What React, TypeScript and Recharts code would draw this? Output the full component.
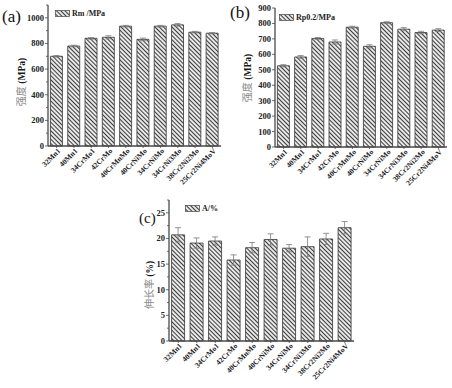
import { BarChart, Bar, XAxis, YAxis, ErrorBar, Legend } from "recharts";

const categories = ["32Mn1", "40Mn1", "34CrMo1", "42CrMo", "40CrMnMo", "40CrNiMo", "34CrNiMo", "34CrNi3Mo", "38Cr2Ni2Mo", "25Cr2Ni4MoV"];

const rmValues = [700, 780, 840, 848, 935, 832, 935, 945, 888, 880];
const rmErrors = [6, 6, 6, 12, 6, 10, 6, 10, 6, 5];
const rpValues = [526, 583, 703, 680, 776, 652, 805, 763, 741, 757];
const rpErrors = [7, 9, 6, 13, 6, 10, 6, 10, 8, 9];
const aValues = [20.7, 19.1, 19.5, 15.8, 18.2, 19.8, 18.1, 18.4, 19.9, 22.1];
const aErrors = [1.4, 1.0, 0.8, 1.0, 1.0, 1.1, 0.7, 1.9, 1.1, 1.2];

const rmTicks = [0, 100, 200, 300, 400, 500, 600, 700, 800, 900, 1000, 1100];
const rmMajor = [0, 200, 400, 600, 800, 1000];
const rpTicks = [0, 100, 200, 300, 400, 500, 600, 700, 800, 900];
const rpMajor = [0, 100, 200, 300, 400, 500, 600, 700, 800, 900];
const aTicks = [0, 2.5, 5, 7.5, 10, 12.5, 15, 17.5, 20, 22.5, 25, 27.5];
const aMajor = [0, 5, 10, 15, 20, 25];

const SERIF = "'Liberation Serif', 'Times New Roman', serif";
const CJK = "'Noto Sans CJK SC', sans-serif";
const FRAME = "#4a4a4a";

const build = (vals: number[], errs: number[]) =>
  categories.map((name, i) => ({ name, value: vals[i], err: errs[i] }));

type PanelProps = {
  id: string;
  tag: string;
  legendName: string;
  yName: string;
  yUnit: string;
  vals: number[];
  errs: number[];
  ticks: number[];
  major: number[];
  max: number;
  left: number;
  top: number;
  width: number;
  height: number;
  marginTop: number;
  marginRight: number;
  yWidth: number;
  xHeight: number;
  labelPos: { x: number; y: number };
  legendPos: { left: number; top: number };
  tagPos: { x: number; y: number; size: number };
};

function Swatch({ id }: { id: string }) {
  return (
    <svg width={15} height={7} style={{ display: "block" }}>
      <rect x={0.5} y={0.5} width={14} height={6} fill={`url(#${id})`} stroke="#444" strokeWidth={0.7} />
    </svg>
  );
}

function Panel(p: PanelProps) {
  const data = build(p.vals, p.errs);
  const plotLeft = p.yWidth;

  const yTick = (props: any) => {
    const { y, payload } = props;
    const isMajor = p.major.includes(payload.value);
    return (
      <g>
        <line x1={plotLeft - (isMajor ? 3 : 2)} x2={plotLeft} y1={y} y2={y} stroke={FRAME} strokeWidth={0.8} />
        {isMajor && (
          <text x={plotLeft - 4} y={y} dy={3} textAnchor="end" fontFamily={SERIF} fontWeight="bold" fontSize={8.5} fill="#222">
            {payload.value}
          </text>
        )}
      </g>
    );
  };

  const xTick = (props: any) => {
    const { x, y, payload } = props;
    return (
      <g transform={`translate(${x},${y})`}>
        <text x={2} y={4} textAnchor="end" transform="rotate(-45)" fontFamily={SERIF} fontWeight="bold" fontSize={7.5} fill="#222">
          {payload.value}
        </text>
      </g>
    );
  };

  // y label: grey CJK name followed by bold serif unit
  const yLabel = () => (
    <text
      x={p.labelPos.x}
      y={p.labelPos.y}
      textAnchor="middle"
      fontFamily={SERIF}
      fontWeight="bold"
      fontSize={9.5}
      fill="#1a1a1a"
      transform={`rotate(-90, ${p.labelPos.x}, ${p.labelPos.y})`}
    >
      <tspan fontFamily={CJK} fontWeight="normal" fontSize={10} fill="#8a8a8a">{p.yName}</tspan>
      <tspan> {p.yUnit}</tspan>
    </text>
  );

  const legendContent = () => (
    <div style={{ display: "flex", alignItems: "center", gap: 2 }}>
      <Swatch id={p.id} />
      <span style={{ fontFamily: SERIF, fontWeight: "bold", fontSize: 8, color: "#222", whiteSpace: "nowrap" }}>
        {p.legendName}
      </span>
    </div>
  );

  return (
    <div style={{ position: "absolute", left: p.left, top: p.top }}>
      <BarChart
        width={p.width}
        height={p.height}
        data={data}
        margin={{ top: p.marginTop, right: p.marginRight, left: 0, bottom: 0 }}
        barCategoryGap="14%"
      >
        <defs>
          <pattern id={p.id} width={3} height={3} patternUnits="userSpaceOnUse" patternTransform="rotate(-45)">
            <rect width={3} height={3} fill="#e8e8e8" />
            <line x1={0} y1={0} x2={0} y2={3} stroke="#333" strokeWidth={1.9} />
          </pattern>
        </defs>
        <XAxis
          dataKey="name"
          height={p.xHeight}
          interval={0}
          tick={xTick}
          tickSize={2}
          tickLine={{ stroke: FRAME, strokeWidth: 0.8 }}
          axisLine={{ stroke: FRAME, strokeWidth: 1.3 }}
        />
        <XAxis xAxisId="top" orientation="top" dataKey="name" height={0} tick={false} tickLine={false} axisLine={{ stroke: FRAME, strokeWidth: 1.3 }} />
        <YAxis
          width={p.yWidth}
          domain={[0, p.max]}
          ticks={p.ticks}
          interval={0}
          tick={yTick}
          tickLine={false}
          axisLine={{ stroke: FRAME, strokeWidth: 1.3 }}
          label={{ content: yLabel }}
        />
        <YAxis yAxisId="right" orientation="right" width={0} domain={[0, p.max]} tick={false} tickLine={false} axisLine={{ stroke: FRAME, strokeWidth: 1.3 }} />
        <Legend
          layout="horizontal"
          verticalAlign="middle"
          align="center"
          content={legendContent}
          wrapperStyle={{ position: "absolute", left: p.legendPos.left, top: p.legendPos.top, width: "auto", height: "auto" }}
        />
        <Bar dataKey="value" name={p.legendName} fill={`url(#${p.id})`} stroke="#333" strokeWidth={0.8} isAnimationActive={false}>
          <ErrorBar dataKey="err" width={3} stroke="#7a7a7a" strokeWidth={0.8} />
        </Bar>
      </BarChart>
      <div
        style={{
          position: "absolute",
          left: p.tagPos.x,
          top: p.tagPos.y,
          fontFamily: SERIF,
          fontSize: p.tagPos.size,
          color: "#111",
          lineHeight: 1,
        }}
      >
        {p.tag}
      </div>
    </div>
  );
}

export default function App() {
  return (
    <div style={{ position: "absolute", left: 0, top: 0, width: 452, height: 388, background: "#fff", overflow: "hidden" }}>
      <Panel
        id="hatchA"
        tag="(a)"
        legendName="Rm /MPa"
        yName="强度"
        yUnit="(MPa)"
        vals={rmValues}
        errs={rmErrors}
        ticks={rmTicks}
        major={rmMajor}
        max={1100}
        left={0}
        top={0}
        width={226}
        height={190}
        marginTop={5}
        marginRight={5}
        yWidth={48}
        xHeight={44}
        labelPos={{ x: 25, y: 82 }}
        legendPos={{ left: 55, top: 9 }}
        tagPos={{ x: 2, y: 8, size: 17 }}
      />
      <Panel
        id="hatchB"
        tag="(b)"
        legendName="Rp0.2/MPa"
        yName="强度"
        yUnit="(MPa)"
        vals={rpValues}
        errs={rpErrors}
        ticks={rpTicks}
        major={rpMajor}
        max={900}
        left={226}
        top={0}
        width={226}
        height={190}
        marginTop={8}
        marginRight={5}
        yWidth={49}
        xHeight={43}
        labelPos={{ x: 25, y: 78 }}
        legendPos={{ left: 53, top: 13 }}
        tagPos={{ x: 4, y: 4, size: 17 }}
      />
      <Panel
        id="hatchC"
        tag="(c)"
        legendName="A/%"
        yName="伸长率"
        yUnit="(%)"
        vals={aValues}
        errs={aErrors}
        ticks={aTicks}
        major={aMajor}
        max={27.5}
        left={120}
        top={190}
        width={240}
        height={198}
        marginTop={10}
        marginRight={6}
        yWidth={49}
        xHeight={47}
        labelPos={{ x: 33, y: 95 }}
        legendPos={{ left: 65, top: 14 }}
        tagPos={{ x: 19, y: 21, size: 15 }}
      />
    </div>
  );
}
